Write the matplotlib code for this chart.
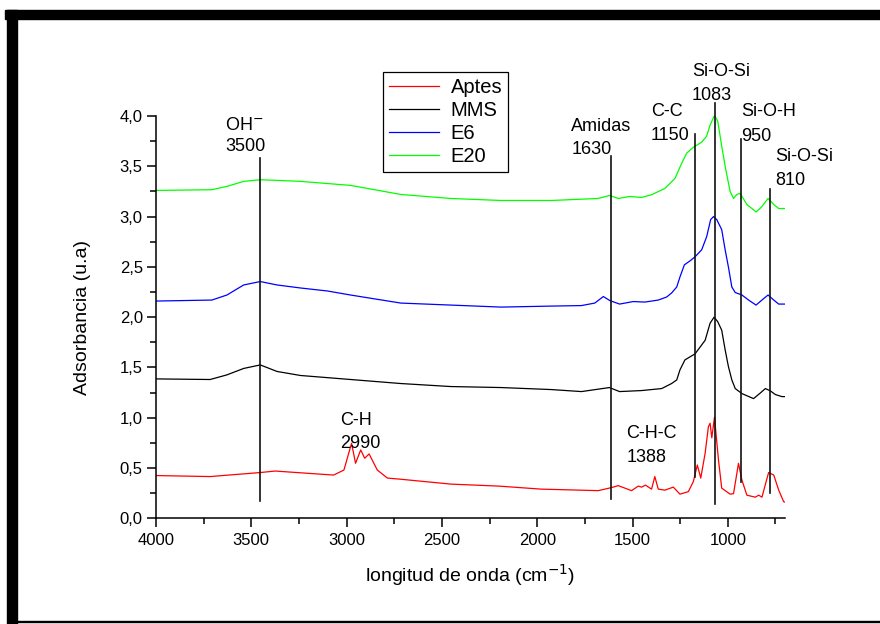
import matplotlib
matplotlib.use('Agg')
import matplotlib.pyplot as plt
import matplotlib.patches as mpatches
from matplotlib.ticker import MultipleLocator, FuncFormatter

plt.rcParams['font.family'] = ['Liberation Sans', 'DejaVu Sans']

# —— 光谱数据 ——
aptes_x = [4000, 3716, 3453, 3374, 3300, 3068, 3014, 2974, 2953, 2926, 2905, 2882,
           2839, 2786, 2725, 2453, 2200, 1979, 1680, 1611, 1575, 1505, 1470, 1452,
           1432, 1400, 1383, 1365, 1330, 1286, 1251, 1207, 1181, 1160, 1142, 1119,
           1102, 1093, 1084, 1070, 1049, 1032, 988, 970, 944, 926, 900, 856, 838,
           821, 786, 759, 733, 707, 686]
aptes_y = [0.425, 0.415, 0.455, 0.47, 0.46, 0.43, 0.48, 0.746, 0.547, 0.68, 0.597, 0.64,
           0.48, 0.40, 0.39, 0.34, 0.32, 0.29, 0.275, 0.305, 0.325, 0.275, 0.32, 0.31,
           0.33, 0.29, 0.415, 0.29, 0.28, 0.31, 0.24, 0.265, 0.365, 0.53, 0.40, 0.647,
           0.91, 0.945, 0.80, 1.005, 0.58, 0.30, 0.24, 0.245, 0.547, 0.38, 0.23, 0.21, 0.23,
           0.21, 0.455, 0.43, 0.28, 0.165, 0.155]

mms_x = [4000, 3716, 3628, 3540, 3453, 3365, 3242, 2979, 2716, 2453, 2189, 1926, 1768,
         1621, 1568, 1453, 1347, 1295, 1268, 1251, 1225, 1172, 1119, 1093, 1072, 1053,
         1032, 1014, 997, 979, 961, 926, 865, 830, 803, 777, 750, 716, 686]
mms_y = [1.386, 1.38, 1.426, 1.49, 1.525, 1.46, 1.42, 1.38, 1.34, 1.31, 1.30, 1.28, 1.26,
         1.30, 1.26, 1.27, 1.29, 1.34, 1.376, 1.476, 1.575, 1.635, 1.77, 1.94, 2.0, 1.955,
         1.87, 1.675, 1.51, 1.376, 1.29, 1.24, 1.19, 1.245, 1.29, 1.267, 1.23, 1.21, 1.21]

e6_x = [4000, 3707, 3628, 3540, 3453, 3365, 3242, 3100, 2979, 2716, 2453, 2189, 1926,
        1768, 1698, 1653, 1619, 1568, 1496, 1435, 1365, 1321, 1295, 1268, 1251, 1228,
        1198, 1172, 1137, 1111, 1090, 1075, 1058, 1032, 1014, 997, 979, 961, 926, 891,
        852, 821, 789, 759, 733, 686]
e6_y = [2.16, 2.17, 2.22, 2.32, 2.354, 2.32, 2.29, 2.26, 2.22, 2.14, 2.12, 2.10, 2.11,
        2.115, 2.14, 2.205, 2.165, 2.13, 2.155, 2.15, 2.17, 2.20, 2.24, 2.30, 2.40, 2.52,
        2.56, 2.60, 2.67, 2.80, 2.97, 3.0, 2.97, 2.87, 2.67, 2.50, 2.30, 2.245, 2.22, 2.17,
        2.12, 2.17, 2.22, 2.17, 2.13, 2.13]

e20_x = [4000, 3707, 3628, 3540, 3453, 3365, 3242, 2979, 2716, 2453, 2189, 1926, 1681,
         1619, 1575, 1514, 1453, 1400, 1330, 1277, 1242, 1216, 1180, 1137, 1111, 1093,
         1070, 1053, 1032, 1011, 988, 970, 953, 935, 900, 851, 821, 789, 759, 733, 686]
e20_y = [3.26, 3.267, 3.30, 3.35, 3.366, 3.36, 3.35, 3.31, 3.22, 3.18, 3.16, 3.16, 3.18,
         3.21, 3.18, 3.20, 3.19, 3.217, 3.28, 3.38, 3.53, 3.63, 3.69, 3.74, 3.80, 3.91,
         4.006, 3.95, 3.70, 3.47, 3.25, 3.18, 3.22, 3.23, 3.12, 3.045, 3.10, 3.18, 3.12,
         3.08, 3.08]

series_names = ['Aptes', 'MMS', 'E6', 'E20']
series_colors = ['#FF0000', '#000000', '#0000FF', '#00FF00']

# —— 标注竖线 ——
mark_x = [3453, 1611, 1172, 1065, 932, 779]
mark_y0 = [0.17, 0.19, 0.41, 0.14, 0.36, 0.255]
mark_y1 = [3.585, 3.60, 3.82, 4.13, 3.77, 3.27]

# —— 标注文字 (名称, 波数, x, 名称基线 y, 波数基线 y) ——
ann_name = ['OH$^{\\mathsf{-}}$', 'Amidas', 'C-C', 'Si-O-Si', 'Si-O-H', 'Si-O-Si', 'C-H', 'C-H-C']
ann_num = ['3500', '1630', '1150', '1083', '950', '810', '2990', '1388']
ann_x = [3637, 1821, 1404, 1189, 932, 753, 3032, 1532]
ann_y1 = [3.865, 3.847, 4.003, 4.394, 3.996, 3.548, 0.928, 0.797]
ann_y2 = [3.655, 3.62, 3.764, 4.162, 3.748, 3.316, 0.699, 0.564]

fig = plt.figure(figsize=(8.8, 6.24), dpi=100)
ax = fig.add_axes([156/880, 1-518.3/624, (785-156)/880, (518.3-116)/624])

data = [(aptes_x, aptes_y), (mms_x, mms_y), (e6_x, e6_y), (e20_x, e20_y)]
for (xs, ys), name, c in zip(data, series_names, series_colors):
    ax.plot(xs, ys, color=c, lw=0.9, label=name)

for x, y0, y1 in zip(mark_x, mark_y0, mark_y1):
    ax.plot([x, x], [y0, y1], color='#111111', lw=1.2, clip_on=False)

for n, v, x, y1, y2 in zip(ann_name, ann_num, ann_x, ann_y1, ann_y2):
    ax.text(x, y1, n, ha='left', va='baseline', fontsize=13)
    ax.text(x, y2, v, ha='left', va='baseline', fontsize=13)

ax.set_xlim(4000, 700)
ax.set_ylim(0, 4.0)
ax.xaxis.set_major_locator(MultipleLocator(500))
ax.xaxis.set_minor_locator(MultipleLocator(250))
ax.yaxis.set_major_locator(MultipleLocator(0.5))
ax.yaxis.set_minor_locator(MultipleLocator(0.25))
ax.yaxis.set_major_formatter(FuncFormatter(lambda v, p: f"{v:.1f}".replace('.', ',')))
ax.tick_params(which='major', direction='out', length=6.5, width=1.1, labelsize=12, pad=3)
ax.tick_params(which='minor', direction='out', length=4.3, width=1.1)
ax.tick_params(axis='x', which='major', pad=4)
for s in ['top', 'right']:
    ax.spines[s].set_visible(False)
for s in ['left', 'bottom']:
    ax.spines[s].set_linewidth(1.1)

ax.set_xlabel('longitud de onda (cm$^{\\mathsf{-1}}$)', fontsize=14, labelpad=10)
ax.set_ylabel('Adsorbancia (u.a)', fontsize=14, labelpad=21)

leg = ax.legend(loc='upper left', bbox_to_anchor=(383/880, 1-72.3/624),
                bbox_transform=fig.transFigure, borderaxespad=0, fontsize=14.5,
                handlelength=2.5, handletextpad=0.55, labelspacing=0.2,
                fancybox=False, framealpha=1, edgecolor='black', borderpad=0.3)
leg.get_frame().set_linewidth(0.9)

# 外框装饰
fig.patches.append(mpatches.Rectangle((5/880, 1-19/624), 875/880, 9/624,
                                      transform=fig.transFigure, color='black', zorder=0))
fig.patches.append(mpatches.Rectangle((7/880, 0), 10/880, 1-10/624,
                                      transform=fig.transFigure, color='black', zorder=0))
fig.patches.append(mpatches.Rectangle((17/880, 2/624), 863/880, 1.2/624,
                                      transform=fig.transFigure, color='black', zorder=0))

fig.savefig('out.png', dpi=100)
